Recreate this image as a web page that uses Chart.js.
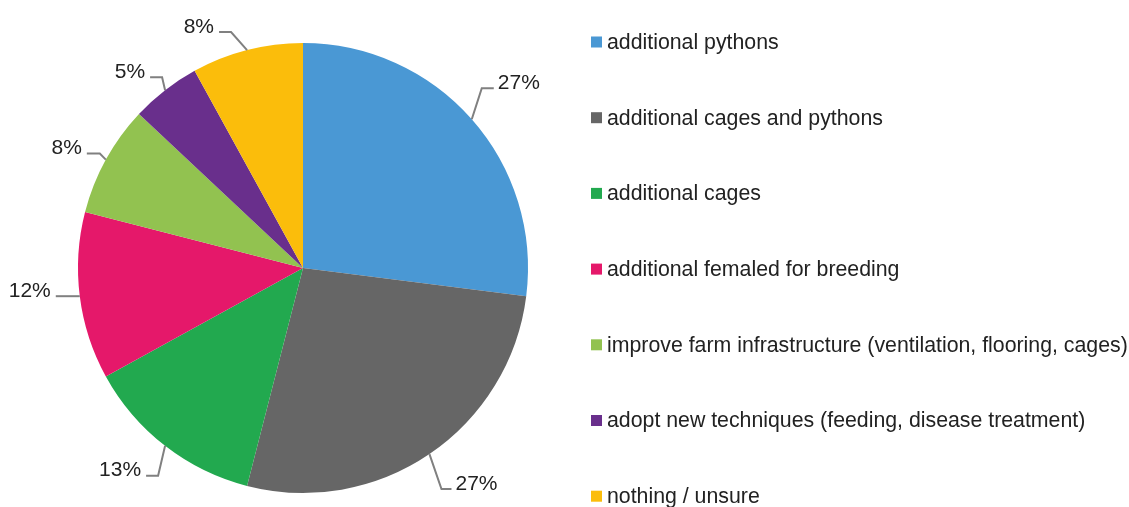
<!DOCTYPE html>
<html>
<head>
<meta charset="utf-8">
<script src="https://cdn.jsdelivr.net/npm/chart.js@4"></script>
<style>
  html, body { margin: 0; padding: 0; background: #fff; }
  #wrap { width: 1129px; height: 507px; position: relative; }
</style>
</head>
<body>
<div id="wrap"><canvas id="pie"></canvas></div>
<script>
var CATEGORIES = [
  'additional pythons',
  'additional cages and pythons',
  'additional cages',
  'additional femaled for breeding',
  'improve farm infrastructure (ventilation, flooring, cages)',
  'adopt new techniques (feeding, disease treatment)',
  'nothing / unsure'
];
var SHARES = [27, 27, 13, 12, 8, 5, 8];
var COLORS = ['#4a98d4', '#666666', '#22a94f', '#e5186a', '#92c250', '#692f8c', '#fbbd0b'];

// elbow of each leader line relative to the slice's outer midpoint, and the
// length (signed) of the horizontal tail that runs to the label
var ELBOWS = [[10, -31], [12, 35], [-7, 30], [0, 0], [-6, -6], [-3, -13], [-16, -18]];
var TAILS = [12, 10, -12, -24, -13, -12, -12];

var FONT = '"Liberation Sans", Arial, sans-serif';
var TEXT = '#222222';

var pieLabels = {
  id: 'pieLabels',
  afterDatasetsDraw: function(chart) {
    var ctx = chart.ctx;
    var arcs = chart.getDatasetMeta(0).data;
    ctx.save();
    arcs.forEach(function(arc, i) {
      var p = arc.getProps(['x', 'y', 'startAngle', 'endAngle', 'outerRadius'], true);
      var mid = (p.startAngle + p.endAngle) / 2;
      var ax = p.x + Math.cos(mid) * p.outerRadius;
      var ay = p.y + Math.sin(mid) * p.outerRadius;
      var ex = ax + ELBOWS[i][0];
      var ey = ay + ELBOWS[i][1];
      var tx = ex + TAILS[i];
      ctx.strokeStyle = '#808080';
      ctx.lineWidth = 2;
      ctx.beginPath();
      ctx.moveTo(ax, ay);
      ctx.lineTo(ex, ey);
      ctx.lineTo(tx, ey);
      ctx.stroke();
      ctx.fillStyle = TEXT;
      ctx.font = '21px ' + FONT;
      ctx.textBaseline = 'alphabetic';
      var right = TAILS[i] > 0;
      ctx.textAlign = right ? 'left' : 'right';
      ctx.fillText(SHARES[i] + '%', tx + (right ? 4 : -5), ey + 0.5);
    });
    ctx.restore();
  }
};

var sideLegend = {
  id: 'sideLegend',
  afterDraw: function(chart) {
    var ctx = chart.ctx;
    ctx.save();
    ctx.font = '21.3px ' + FONT;
    ctx.textBaseline = 'middle';
    ctx.textAlign = 'left';
    CATEGORIES.forEach(function(name, i) {
      var cy = 42.5 + i * 75.7;
      ctx.fillStyle = COLORS[i];
      ctx.fillRect(591, cy - 6, 11, 11);
      ctx.fillStyle = TEXT;
      ctx.fillText(name, 607, cy + 0.5);
    });
    ctx.restore();
  }
};

new Chart(document.getElementById('pie'), {
  type: 'pie',
  data: {
    labels: CATEGORIES,
    datasets: [{
      data: SHARES,
      backgroundColor: COLORS,
      borderWidth: 0
    }]
  },
  options: {
    responsive: true,
    maintainAspectRatio: false,
    animation: false,
    layout: { padding: { left: 78, right: 601, top: 43, bottom: 14 } },
    plugins: {
      legend: { display: false },
      tooltip: { enabled: false }
    }
  },
  plugins: [pieLabels, sideLegend]
});
</script>
</body>
</html>
